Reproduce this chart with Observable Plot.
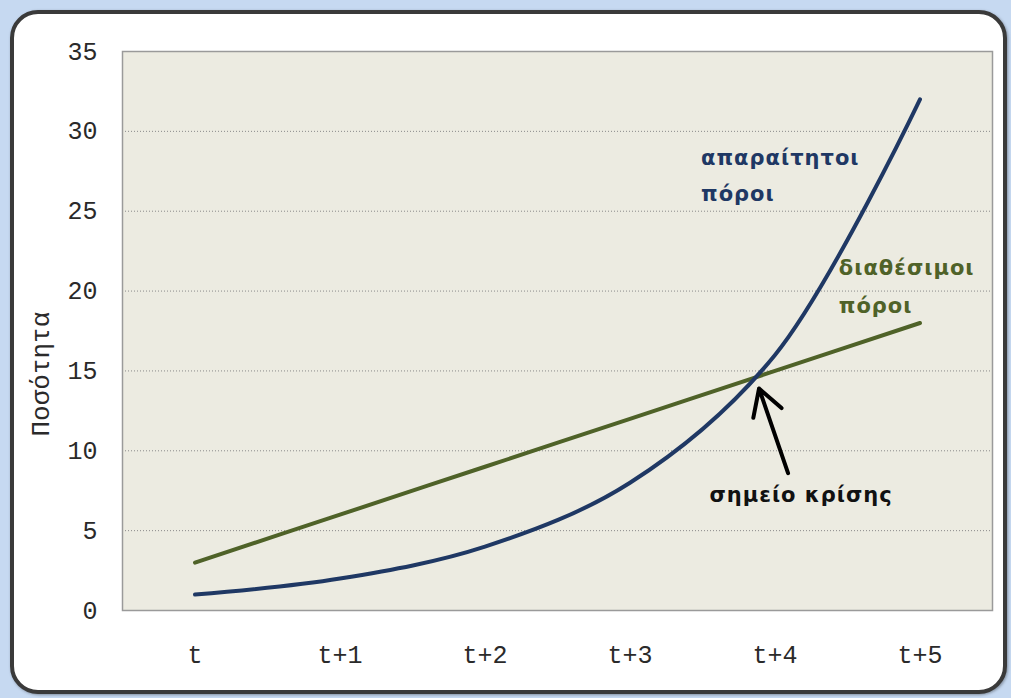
<!DOCTYPE html>
<html>
<head>
<meta charset="utf-8">
<script src="https://cdn.jsdelivr.net/npm/d3@7"></script>
<script src="https://cdn.jsdelivr.net/npm/@observablehq/plot@0.6"></script>
<style>
  html, body { margin: 0; padding: 0; }
  body { width: 1011px; height: 698px; background: #c6d9f1; position: relative; overflow: hidden; }
  #panel { position: absolute; left: 10px; top: 10px; width: 989px; height: 676px;
    background: #ffffff; border: 4px solid #3a3a3a; border-radius: 28px;
    box-shadow: 1px 1px 3px rgba(0,0,0,0.35); }
  #chart { position: absolute; left: 0; top: 0; }
</style>
</head>
<body>
<div id="panel"></div>
<div id="chart"></div>
<script>
// Data
const periods = ["t", "t+1", "t+2", "t+3", "t+4", "t+5"];
const required = [1, 2, 4, 8, 16, 32];      // απαραίτητοι πόροι
const available = [3, 6, 9, 12, 15, 18];    // διαθέσιμοι πόροι
const yTicks = [0, 5, 10, 15, 20, 25, 30, 35];
const gridTicks = [5, 10, 15, 20, 25, 30];
const yLabel = "Ποσότητα";

// annotations (in data units: x = period index, y = quantity)
const blueLabels = [{x: 3.49, y: 28.3, text: "απαραίτητοι"}, {x: 3.49, y: 26.05, text: "πόροι"}];
const greenLabels = [{x: 4.44, y: 21.4, text: "διαθέσιμοι"}, {x: 4.44, y: 19.05, text: "πόροι"}];
const crisisLabel = [{x: 4.18, y: 7.2, text: "σημείο κρίσης"}];
const crisisArrow = [{x1: 4.09, y1: 8.6, x2: 3.89, y2: 13.9}];

const reqData = periods.map((p, i) => ({i, v: required[i]}));
const avData = periods.map((p, i) => ({i, v: available[i]}));

const BLUE = "#1f3864";
const GREEN = "#4f6228";
const monoFont = "'Liberation Mono', 'DejaVu Sans Mono', monospace";
const sansFont = "'DejaVu Sans', Verdana, sans-serif";

const chart = Plot.plot({
  width: 1011,
  height: 698,
  marginLeft: 122,
  marginRight: 19,
  marginTop: 51,
  marginBottom: 88,
  style: {background: "transparent", fontFamily: monoFont, fontSize: "25px", color: "#2a2a2a"},
  x: {domain: [-0.5, 5.5], ticks: periods.map((p, i) => i), tickFormat: i => periods[i], tickSize: 0, tickPadding: 35, label: null},
  y: {domain: [0, 35], ticks: yTicks, tickSize: 0, tickPadding: 25, label: null},
  marks: [
    Plot.frame({fill: "#ecebe1", stroke: null}),
    Plot.gridY(gridTicks, {stroke: "#8a8a8a", strokeOpacity: 1, strokeDasharray: "1,2"}),
    Plot.frame({stroke: "#9a9a9a", strokeWidth: 1.5}),
    Plot.line(avData, {x: "i", y: "v", stroke: GREEN, strokeWidth: 4, curve: "catmull-rom"}),
    Plot.line(reqData, {x: "i", y: "v", stroke: BLUE, strokeWidth: 4, curve: "catmull-rom"}),
    Plot.arrow(crisisArrow, {x1: "x1", y1: "y1", x2: "x2", y2: "y2", stroke: "#000", strokeWidth: 4, headLength: 20, bend: 0}),
    Plot.text(blueLabels, {x: "x", y: "y", text: "text", fill: BLUE, textAnchor: "start", fontFamily: sansFont, fontWeight: "bold", fontSize: 21}),
    Plot.text(greenLabels, {x: "x", y: "y", text: "text", fill: GREEN, textAnchor: "start", fontFamily: sansFont, fontWeight: "bold", fontSize: 21}),
    Plot.text(crisisLabel, {x: "x", y: "y", text: "text", fill: "#111", textAnchor: "middle", fontFamily: sansFont, fontWeight: "bold", fontSize: 21}),
    Plot.text([yLabel], {frameAnchor: "left", dx: -82, y: () => 14.8, text: d => d, rotate: -90, textAnchor: "middle", fontFamily: monoFont, fontSize: 26, fill: "#2a2a2a"})
  ]
});
// slightly open letter spacing for the bold annotation texts
d3.select(chart).selectAll("text").filter(function() {
  return this.closest("g") && this.closest("g").getAttribute("font-weight") === "bold";
}).attr("letter-spacing", "1px");
document.getElementById("chart").appendChild(chart);
</script>
</body>
</html>
